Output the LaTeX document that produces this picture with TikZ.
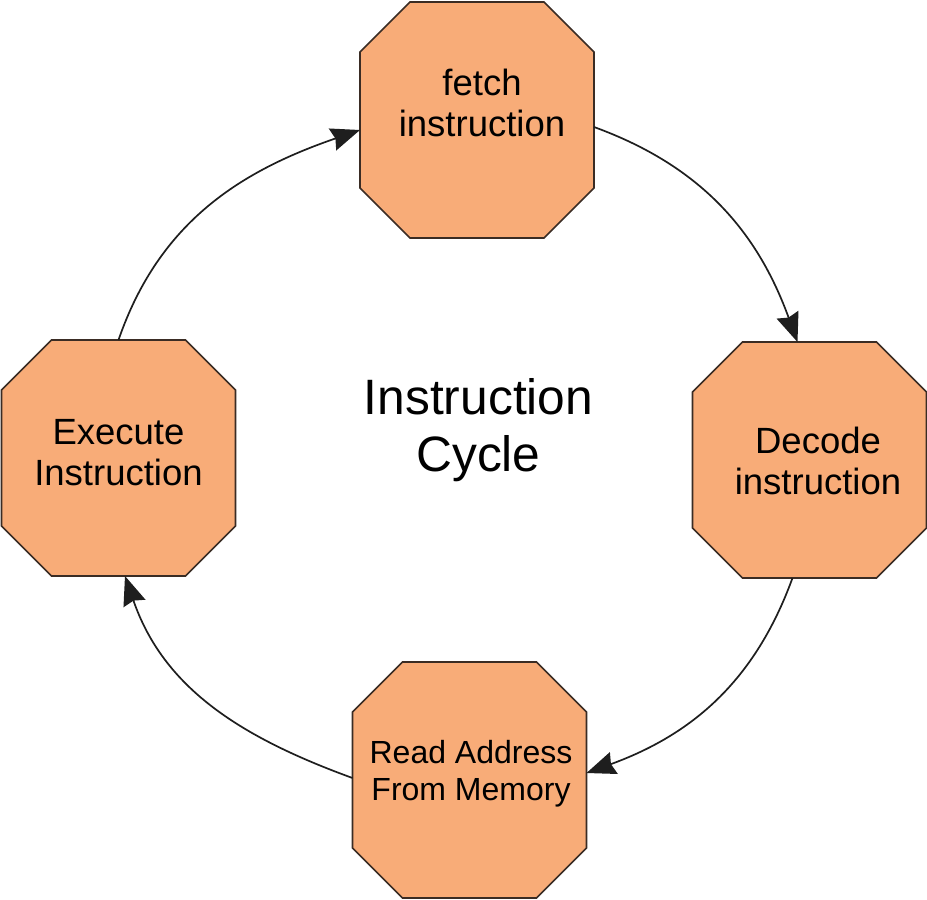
\documentclass[tikz,border=0pt]{standalone}
\usepackage{fontspec}
\setmainfont{Liberation Sans}
\usetikzlibrary{arrows.meta}
\definecolor{boxfill}{HTML}{F8AC78}
\definecolor{boxline}{HTML}{3A2C24}
\definecolor{arr}{HTML}{1E1E1E}
\newcommand\octagonof[1]{%
  \filldraw[octline] ([xshift=50pt]#1.north west) -- ([xshift=-50pt]#1.north east)
    -- ([yshift=-50pt]#1.north east) -- ([yshift=50pt]#1.south east)
    -- ([xshift=-50pt]#1.south east) -- ([xshift=50pt]#1.south west)
    -- ([yshift=50pt]#1.south west) -- ([yshift=-50pt]#1.north west) -- cycle;}
\begin{document}
\begin{tikzpicture}[x=1pt,y=1pt,
  octo/.style={rectangle, minimum width=234pt, minimum height=236pt, inner sep=0pt, outer sep=0pt},
  octline/.style={fill=boxfill, draw=boxline, line width=1.6pt, line join=miter},
  txt/.style={align=center, font=\fontsize{36.5}{41}\selectfont, inner sep=0pt, text=black},
  smalltxt/.style={align=center, font=\fontsize{32}{37}\selectfont, inner sep=0pt, text=black},
  flow/.style={draw=arr, line width=1.7pt, -{Stealth[length=29pt,width=23pt,inset=3pt]}}]
\useasboundingbox (0,0) rectangle (927,-900);
\fill[white] (0,0) rectangle (927,-900);
\node[octo] (fetch) at (477,-120) {};
\node[octo] (decode) at (809.5,-460) {};
\node[octo] (read) at (469.5,-780) {};
\node[octo] (exec) at (118.5,-458) {};
\octagonof{fetch}
\octagonof{decode}
\octagonof{read}
\octagonof{exec}
\node[txt] (fetcht) at (482,-103) {fetch\\instruction};
\node[txt] (decodet) at (818,-461) {Decode\\instruction};
\node[smalltxt] (readt) at (471,-774) {Read Address\\From Memory};
\node[txt] (exect) at (118.5,-453) {Execute\\Instruction};
\node[align=center, font=\fontsize{49.7}{57}\selectfont, inner sep=0pt] (center) at (478.5,-430) {Instruction\\Cycle};
\draw[flow] ([yshift=-7pt]fetch.east) to[out=-20,in=110] ([xshift=-12pt]decode.north);
\draw[flow] ([xshift=-17pt]decode.south) to[out=-110,in=20] ([yshift=7pt]read.east);
\draw[flow] ([yshift=2pt]read.west) to[out=160,in=-71] ([xshift=6.5pt]exec.south);
\draw[flow] (exec.north) to[out=71,in=199] ([yshift=-10pt]fetch.west);
\end{tikzpicture}
\end{document}
